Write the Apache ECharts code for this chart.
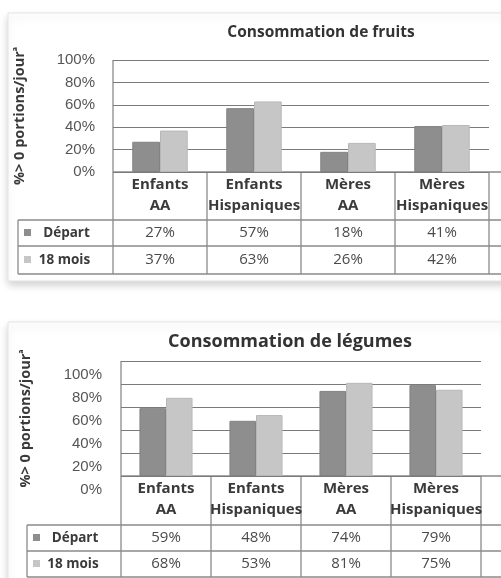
<!DOCTYPE html>
<html>
<head>
<meta charset="utf-8">
<script src="https://cdn.jsdelivr.net/npm/echarts@6/dist/echarts.min.js"></script>
<style>
  html, body { margin: 0; padding: 0; background: #fff; }
  #chart { width: 501px; height: 578px; }
</style>
</head>
<body>
<div id="chart"></div>
<script>
const categories = ['Enfants AA', 'Enfants Hispaniques', 'Mères AA', 'Mères Hispaniques'];
const seriesNames = ['Départ', '18 mois'];
const fruitsDepart = [27, 57, 18, 41];
const fruits18 = [37, 63, 26, 42];
const legumesDepart = [59, 48, 74, 79];
const legumes18 = [68, 53, 81, 75];

const colors = ['#8e8e8e', '#c6c6c6'];
const lineCol = '#8a8a8a';
const font = '"Open Sans", Lato, sans-serif';

// mise en page des deux blocs (grille + tableau)
const blocks = [
  {
    title: 'Consommation de fruits', titleX: 321, titleY: 33, titleSize: 15.5,
    frame: [8, 13, 500, 268],
    grid: { left: 113, top: 60, width: 376, height: 112 },
    rows: [220, 246, 274], tableLeft: 18, tableRight: 501,
    values: [fruitsDepart, fruits18], labelShift: 0, nameX: 27
  },
  {
    title: 'Consommation de légumes', titleX: 290, titleY: 342, titleSize: 18,
    frame: [8, 322, 500, 262],
    grid: { left: 121, top: 361, width: 360, height: 115 },
    rows: [525, 551, 577], tableLeft: 27, tableRight: 501,
    values: [legumesDepart, legumes18], labelShift: 6, nameX: 33
  }
];

const chart = echarts.init(document.getElementById('chart'));

const grids = [], xAxes = [], yAxes = [], series = [], graphics = [];

blocks.forEach((b, k) => {
  const g = b.grid;
  const bottom = g.top + g.height;
  const colW = g.width / categories.length;
  grids.push({ left: g.left, top: g.top, width: g.width, height: g.height });

  xAxes.push({
    type: 'category', gridIndex: k, data: categories,
    axisLine: { show: false }, axisTick: { show: false },
    axisLabel: {
      margin: 2, interval: 0,
      formatter: v => v.replace(' ', '\n'),
      fontFamily: font, fontSize: 15, fontWeight: 'bold', color: '#3a3a3a', lineHeight: 21
    }
  });
  yAxes.push({
    type: 'value', gridIndex: k, min: 0, max: 100, interval: 20,
    name: '%> 0 portions/jourᵃ', nameLocation: 'middle', nameRotate: 90,
    nameGap: g.left - b.nameX,
    nameTextStyle: { fontFamily: font, fontSize: 14.5, fontWeight: 'bold', color: '#3a3a3a' },
    axisLine: { show: false }, axisTick: { show: false },
    axisLabel: {
      formatter: '{value}%', margin: k === 0 ? 18 : 19,
      fontFamily: '"Liberation Sans", Arial, sans-serif', fontSize: 15, color: '#555',
      verticalAlign: b.labelShift ? 'top' : 'middle',
      padding: [b.labelShift, 0, 0, 0]
    },
    splitLine: { lineStyle: { color: '#7a7a7a', width: 1 } }
  });

  b.values.forEach((vals, s) => {
    series.push({
      name: seriesNames[s], type: 'bar', xAxisIndex: k, yAxisIndex: k,
      data: vals, barGap: '0%', barCategoryGap: '41%',
      itemStyle: { color: colors[s], borderColor: s === 0 ? '#828282' : '#b8b8b8', borderWidth: 1 }
    });
  });

  // cadre
  graphics.push({
    type: 'rect', z: -1,
    shape: { x: b.frame[0], y: b.frame[1], width: b.frame[2], height: b.frame[3] },
    style: { fill: '#fff', stroke: '#e4e4e4', lineWidth: 1, shadowBlur: 8, shadowOffsetY: 4, shadowColor: 'rgba(0,0,0,0.18)' }
  });
  // titre
  graphics.push({
    type: 'text', x: b.titleX, y: b.titleY,
    style: { text: b.title, font: 'bold ' + b.titleSize + 'px ' + font, fill: '#333', align: 'center', verticalAlign: 'middle' }
  });

  // lignes du tableau
  const L = (x1, y1, x2, y2) => graphics.push({
    type: 'line', shape: { x1, y1, x2, y2 }, style: { stroke: lineCol, lineWidth: 1.3 }
  });
  L(g.left, bottom, b.tableRight, bottom);
  L(g.left, g.top, g.left, b.rows[2]);
  for (let i = 1; i <= categories.length; i++) {
    L(g.left + i * colW, bottom, g.left + i * colW, b.rows[2]);
  }
  b.rows.forEach(y => L(b.tableLeft, y, b.tableRight, y));
  L(b.tableLeft, b.rows[0], b.tableLeft, b.rows[2]);

  // en-têtes de lignes et valeurs
  const headCenter = (b.tableLeft + g.left) / 2 - 1;
  b.values.forEach((vals, s) => {
    const yc = (b.rows[s] + b.rows[s + 1]) / 2;
    graphics.push({
      type: 'rect', shape: { x: b.tableLeft + 6, y: yc - 4, width: 7, height: 7 },
      style: { fill: colors[s] }
    });
    graphics.push({
      type: 'text', x: headCenter + (s === 0 ? 2 : 0), y: yc,
      style: { text: seriesNames[s], font: 'bold 13.5px ' + font, fill: '#3a3a3a', align: 'center', verticalAlign: 'middle' }
    });
    vals.forEach((v, i) => {
      graphics.push({
        type: 'text', x: g.left + (i + 0.5) * colW, y: yc,
        style: { text: v + '%', font: '15px ' + font, fill: '#4a4a4a', align: 'center', verticalAlign: 'middle' }
      });
    });
  });
});

chart.setOption({
  animation: false,
  grid: grids,
  xAxis: xAxes,
  yAxis: yAxes,
  series: series,
  graphic: { elements: graphics }
});
</script>
</body>
</html>
